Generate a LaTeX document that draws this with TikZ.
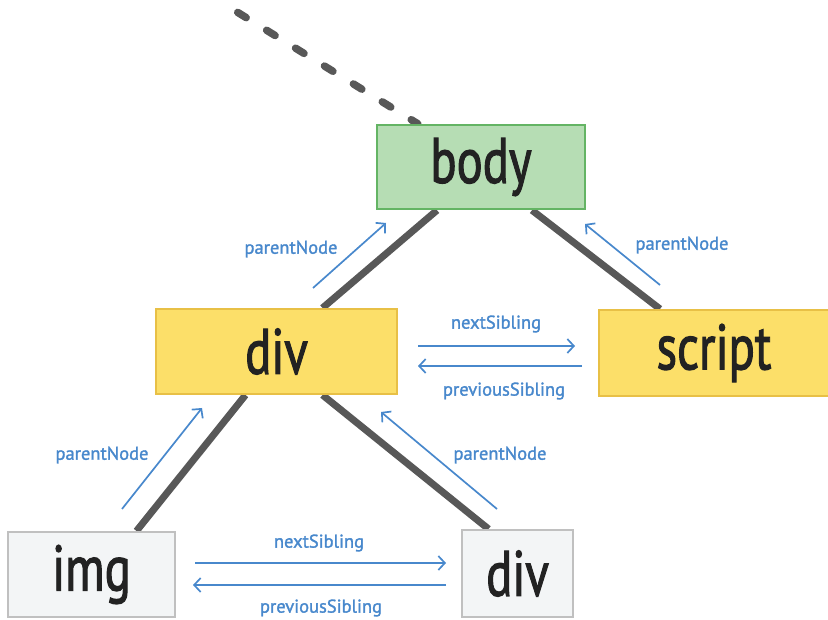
\documentclass[tikz,border=0pt]{standalone}
\usepackage{fontspec}
\setmainfont{PT Sans}
\newfontfamily\boxfont[FakeBold=2]{PT Sans}
\newfontfamily\linkfont[FakeBold=1.5]{PT Sans}
\usepackage{xcolor}
\usetikzlibrary{arrows.meta,backgrounds}

\definecolor{bodyfill}{RGB}{182,221,180}
\definecolor{bodyline}{RGB}{100,180,100}
\definecolor{divfill}{RGB}{252,223,105}
\definecolor{divline}{RGB}{232,192,70}
\definecolor{leaffill}{RGB}{243,245,246}
\definecolor{leafline}{RGB}{192,192,192}
\definecolor{treegray}{RGB}{88,88,88}
\definecolor{linkblue}{RGB}{72,136,204}
\definecolor{ink}{RGB}{34,34,34}

\newcommand{\narrowtxt}[1]{\scalebox{0.76}[1]{#1}}

\begin{document}
\begin{tikzpicture}[
  x=1pt, y=-1pt,
  box/.style={draw, line width=2pt, inner sep=0pt, text=ink, font=\boxfont\fontsize{64}{64}\selectfont},
  edge/.style={treegray, line width=7pt},
  dashline/.style={treegray, line width=7.5pt, line cap=round, dash pattern=on 10pt off 24pt},
  arr/.style={linkblue, line width=1.7pt, -{Straight Barb[length=6.5pt,width=14pt]}},
  lbl/.style={text=linkblue, inner sep=0pt, font=\linkfont\fontsize{18.5}{18.5}\selectfont}
]
\useasboundingbox (0,0) rectangle (828,620);

% tree nodes
\node[box, fill=bodyfill, draw=bodyline, line width=2.5pt, minimum width=208pt, minimum height=84pt] (body) at (481,167) {\narrowtxt{body}};
\node[box, fill=divfill, draw=divline, minimum width=241pt, minimum height=85pt] (div1) at (276.5,351.5) {\narrowtxt{div}};
\node[box, fill=divfill, draw=divline, minimum width=230pt, minimum height=86pt] (script) at (714,353) {\narrowtxt{script}};
\node[box, fill=leaffill, draw=leafline, minimum width=167pt, minimum height=85pt] (img) at (91.5,574.5) {\narrowtxt{img}};
\node[box, fill=leaffill, draw=leafline, minimum width=111pt, minimum height=87pt] (div2) at (517.5,573.5) {\narrowtxt{div}};

% tree edges
\coordinate (up) at (237.7,12.4);
\begin{scope}[on background layer]
\draw[dashline] (up) -- ([xshift=42pt]body.north west);
\draw[edge] ([xshift=-44pt]body.south) -- ([xshift=46pt]div1.north);
\draw[edge] ([xshift=51pt]body.south) -- ([xshift=-54pt]script.north);
\draw[edge] ([xshift=-31pt]div1.south) -- ([xshift=45pt]img.north);
\draw[edge] ([xshift=46pt]div1.south) -- ([xshift=-29pt]div2.north);
\end{scope}

% links
\coordinate (pa1) at (313,288); \coordinate (pb1) at (386,223);
\coordinate (pa2) at (660,285); \coordinate (pb2) at (585,224);
\coordinate (pa3) at (122,509); \coordinate (pb3) at (202,408);
\coordinate (pa4) at (497,509); \coordinate (pb4) at (381,412);
\coordinate (na1) at (418,346); \coordinate (nb1) at (575,346);
\coordinate (va1) at (582,366); \coordinate (vb1) at (418,366);
\coordinate (na2) at (195,563); \coordinate (nb2) at (446,563);
\coordinate (va2) at (446,585); \coordinate (vb2) at (193,585);

\draw[arr] (pa1) -- (pb1);
\draw[arr] (pa2) -- (pb2);
\draw[arr] (pa3) -- (pb3);
\draw[arr] (pa4) -- (pb4);
\draw[arr] (na1) -- (nb1);
\draw[arr] (va1) -- (vb1);
\draw[arr] (na2) -- (nb2);
\draw[arr] (va2) -- (vb2);

\node[lbl] (lp1) at (291,249) {parentNode};
\node[lbl] (lp2) at (682,245) {parentNode};
\node[lbl] (lp3) at (102,455) {parentNode};
\node[lbl] (lp4) at (500,455) {parentNode};
\node[lbl] (ln1) at (496,324) {nextSibling};
\node[lbl] (lv1) at (504,391) {previousSibling};
\node[lbl] (ln2) at (319,543) {nextSibling};
\node[lbl] (lv2) at (321,608) {previousSibling};
\end{tikzpicture}
\end{document}
